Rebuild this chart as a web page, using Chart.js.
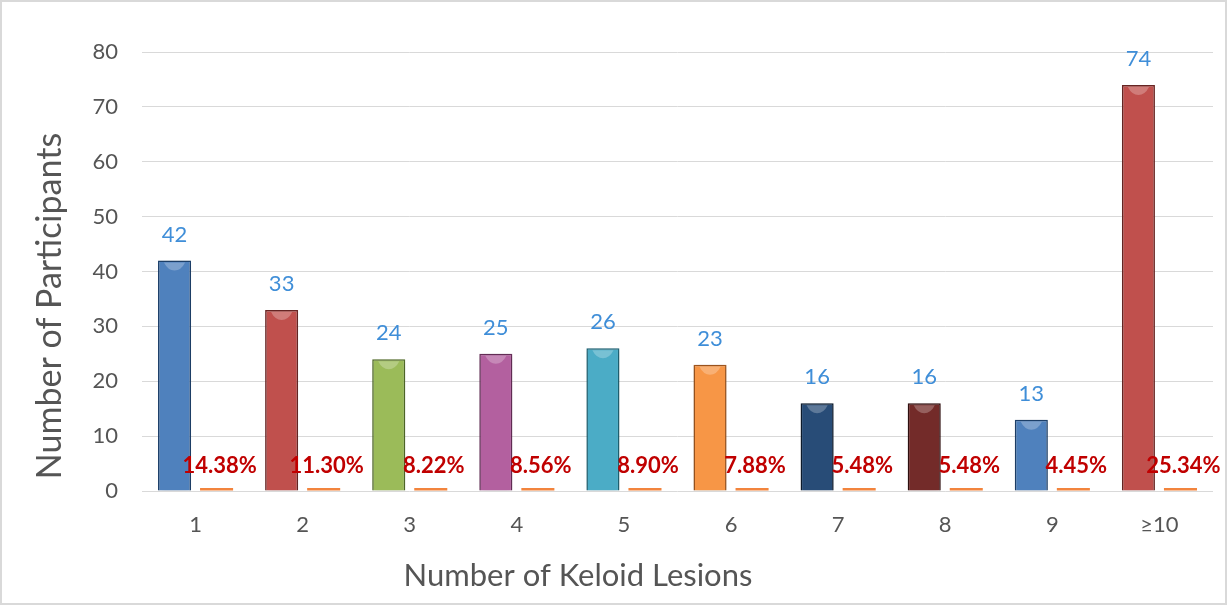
<!DOCTYPE html>
<html>
<head>
<meta charset="utf-8">
<script src="https://cdn.jsdelivr.net/npm/chart.js@4"></script>
<style>
  html, body { margin: 0; padding: 0; background: #fff; }
  #wrap { width: 1227px; height: 605px; }
</style>
</head>
<body>
<div id="wrap"><canvas id="chart"></canvas></div>
<script>
// Keloid lesion counts per participant.
const categories = ['1', '2', '3', '4', '5', '6', '7', '8', '9', '≥10'];
const participants = [42, 33, 24, 25, 26, 23, 16, 16, 13, 74];
const percentages = [14.38, 11.30, 8.22, 8.56, 8.90, 7.88, 5.48, 5.48, 4.45, 25.34];

const xTitle = 'Number of Keloid Lesions';
const yTitle = 'Number of Participants';

// Styles (Excel-like palette, darker edge per bar).
const barFill = ['#4F81BD', '#C0504D', '#9BBB59', '#B3609F', '#4BACC6', '#F79646', '#284C77', '#732B29', '#4F81BD', '#C0504D'];
const barEdge = ['#1F4470', '#6E2826', '#55702B', '#6B305C', '#22687A', '#A65A20', '#0E1D30', '#331010', '#1F4470', '#6E2826'];
const textGrey = '#555555';
const FONT = 'Lato, "Open Sans", sans-serif';

// frame + white background
const framePlugin = {
    id: 'frame',
    beforeDraw(chart) {
        const { ctx, width, height } = chart;
        ctx.save();
        ctx.fillStyle = '#fff';
        ctx.fillRect(0, 0, width, height);
        ctx.strokeStyle = '#D9D9D9';
        ctx.lineWidth = 2;
        ctx.strokeRect(1, 1, width - 2, height - 2);
        ctx.restore();
    },
};

// soft shadow under the main bars
const shadowPlugin = {
    id: 'barShadow',
    beforeDatasetDraw(chart, args) {
        if (args.index !== 0) return;
        const ctx = chart.ctx;
        ctx.save();
        ctx.shadowColor = 'rgba(0,0,0,0.28)';
        ctx.shadowBlur = 5;
        ctx.shadowOffsetY = 1;
    },
    afterDatasetDraw(chart, args) {
        if (args.index !== 0) return;
        chart.ctx.restore();
    },
};

// value labels, bar-top highlight and axis titles
const labelPlugin = {
    id: 'labels',
    afterDatasetsDraw(chart) {
        const ctx = chart.ctx;
        ctx.save();
        chart.getDatasetMeta(0).data.forEach(bar => {
            const w = bar.width;
            const top = bar.y + 2;
            ctx.fillStyle = 'rgba(255,255,255,0.25)';
            ctx.beginPath();
            ctx.moveTo(bar.x - w * 0.32, top);
            ctx.lineTo(bar.x + w * 0.32, top);
            ctx.quadraticCurveTo(bar.x + w * 0.2, top + 8, bar.x, top + 8);
            ctx.quadraticCurveTo(bar.x - w * 0.2, top + 8, bar.x - w * 0.32, top);
            ctx.fill();
        });
        ctx.textAlign = 'center';
        ctx.textBaseline = 'middle';
        ctx.font = '22px ' + FONT;
        ctx.fillStyle = '#3F8ED8';
        chart.getDatasetMeta(0).data.forEach((bar, i) => {
            ctx.fillText(String(participants[i]), bar.x, bar.y - 26);
        });
        ctx.font = 'bold 22px ' + FONT;
        ctx.fillStyle = '#C00000';
        chart.getDatasetMeta(1).data.forEach((bar, i) => {
            ctx.fillText(percentages[i].toFixed(2) + '%', bar.x + 3, bar.y - 22);
        });

        ctx.fillStyle = textGrey;
        ctx.font = '31px ' + FONT;
        ctx.fillText(xTitle, 578, 576);
        ctx.font = '34px ' + FONT;
        ctx.translate(50, 306);
        ctx.rotate(-Math.PI / 2);
        ctx.fillText(yTitle, 0, 0);
        ctx.restore();
    },
};

new Chart(document.getElementById('chart'), {
    type: 'bar',
    data: {
        labels: categories,
        datasets: [
            {
                label: 'Participants',
                data: participants,
                backgroundColor: barFill,
                borderColor: barEdge,
                borderWidth: 1.5,
            },
            {
                label: 'Percentage',
                data: percentages.map(p => p / 100),
                backgroundColor: '#F2843D',
                borderWidth: 0,
                minBarLength: 3,
            },
        ],
    },
    options: {
        responsive: true, maintainAspectRatio: false, animation: false,
        categoryPercentage: 0.785, barPercentage: 0.786,
        layout: { padding: { top: 52, right: 14, left: 0, bottom: 0 } },
        plugins: { legend: { display: false }, tooltip: { enabled: false } },
        scales: {
            x: {
                grid: { display: false, drawTicks: false },
                border: { display: false },
                ticks: { color: textGrey, font: { family: FONT, size: 22 }, padding: 21 },
                afterFit: s => { s.height = 114; },
            },
            y: {
                min: 0, max: 80,
                grid: { color: '#D9D9D9', lineWidth: 1, drawTicks: false },
                border: { display: false },
                ticks: { stepSize: 10, color: textGrey, font: { family: FONT, size: 22 }, padding: 24 },
                afterFit: s => { s.width = 142; },
            },
        },
    },
    plugins: [framePlugin, shadowPlugin, labelPlugin],
});
</script>
</body>
</html>
